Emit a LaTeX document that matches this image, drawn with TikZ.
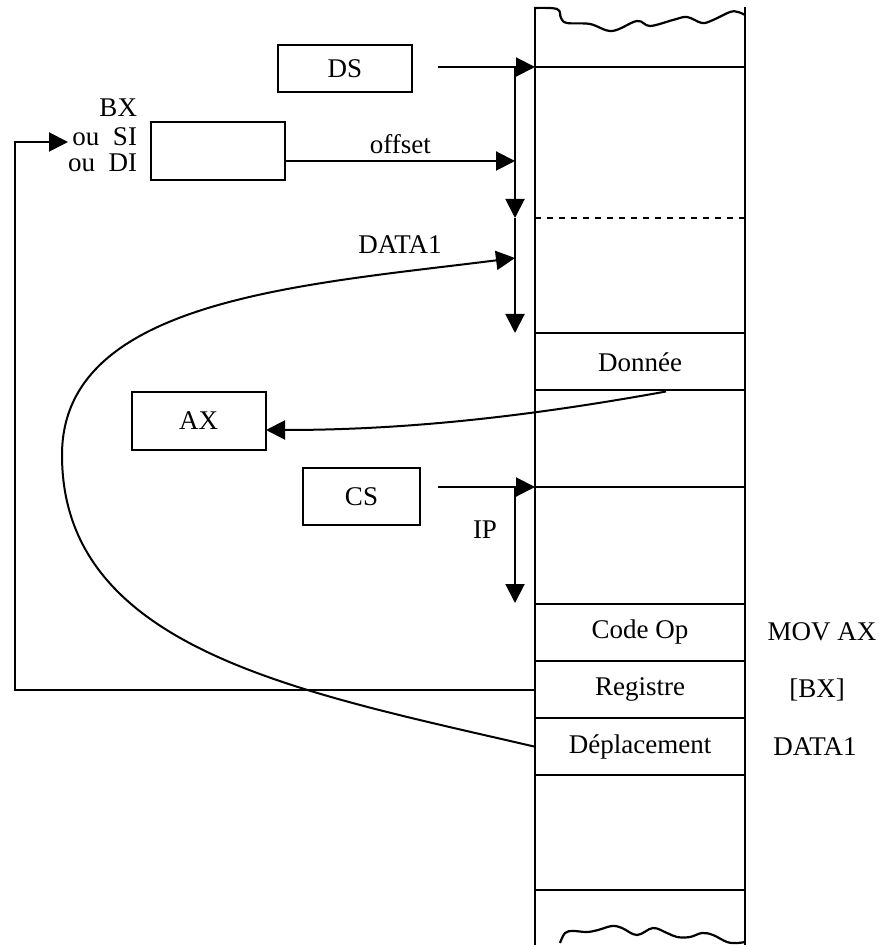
\documentclass[tikz,border=0pt]{standalone}
\usepackage{fontspec}
\setmainfont{Liberation Serif}
\usepackage{tikz}
\usetikzlibrary{arrows.meta}
\tikzstyle{regbox}=[draw, line width=1pt, minimum width=67pt, minimum height=29pt, inner sep=0pt]
\tikzstyle{cell}=[draw, line width=1pt, minimum width=105pt, minimum height=28.5pt, inner sep=0pt]
\tikzstyle{fl}=[-{Triangle[length=9.5pt,width=9.5pt]}, line width=1pt]
\tikzstyle{txt}=[inner sep=0pt]

\begin{document}
\begin{tikzpicture}[x=0.5pt,y=-0.5pt,line width=1pt,
  every node/.style={font=\fontsize{13.5}{16}\selectfont}]
\useasboundingbox (0,0) rectangle (879,945);
% memoire
\draw (535,7) -- (535,945);
\draw (745,7) -- (745,945);
\draw[line width=1.1pt] plot[smooth, tension=0.6] coordinates {(534,8) (557,9) (561,18) (567,23) (590,24) (612,31) (637,21) (650,26) (673,20) (687,17) (702,23) (713,20) (730,12) (738,12) (745,15)};
\draw[line width=1.1pt] plot[smooth, tension=0.6] coordinates {(560,943) (565,933) (573,931) (587,932) (598,930) (612,926) (622,928) (637,935) (653,928) (667,933) (677,937) (690,937) (702,933) (713,935) (727,942) (737,943) (745,942)};
\draw (535,67) -- (745,67);
\draw[dashed] (535,218) -- (745,218);
\draw (535,487) -- (745,487);
\draw (535,890) -- (745,890);
\node[cell] (don) at (640,362) {Donn\'ee};
\node[cell] (cop) at (640,632) {Code Op};
\node[cell] (reg) at (640,689.5) {Registre};
\node[cell] (dep) at (640,746.5) {D\'eplacement};
\node[txt] (mov) at (822,632) {MOV AX};
\node[txt] (bxr) at (817,690) {[BX]};
\node[txt] (dat) at (815,747) {DATA1};
% registres
\node[regbox, minimum height=23.5pt] (DS) at (345,68.5) {DS};
\node[regbox] (BX) at (217.5,151) {};
\node[regbox] (AX) at (198.5,421) {AX};
\node[regbox, minimum width=58.5pt, minimum height=28.5pt] (CS) at (361.5,496.5) {CS};
\node[txt, anchor=east] (lbx) at (138,108) {BX};
\node[txt, anchor=east] (lsi) at (138,137) {ou\ \ SI};
\node[txt, anchor=east] (ldi) at (138,163) {ou\ \ DI};
\coordinate (ds0) at (438,67);
\coordinate (ds1) at (535,67);
\coordinate (sg0) at (515,67);
\coordinate (sg1) at (515,218);
\coordinate (sg2) at (515,333);
\coordinate (of1) at (515,161);
\coordinate (da1) at (515,258);
\coordinate (cs0) at (438,487);
\coordinate (cs1) at (535,487);
\coordinate (ip0) at (515,487);
\coordinate (ip1) at (515,603);
\coordinate (ax1) at (266,430);
\coordinate (lp0) at (15,690);
\coordinate (lp1) at (15,142);
\coordinate (lp2) at (68,142);
% fleches
\draw[fl] (ds0) -- (ds1);
\draw[fl] (sg0) -- (sg1);
\draw[fl] (sg1) -- (sg2);
\draw[fl] (BX.east |- of1) -- (of1) node[txt, pos=0.5, above=3pt] (off) {offset};
\draw[fl] (cs0) -- (cs1);
\draw[fl] (ip0) -- (ip1);
\node[txt] (ip) at (485,530) {IP};
\draw[fl] (don.south east) ++(-80,0) .. controls (520,418) and (400,430) .. (ax1);
\draw[fl] (reg.west |- lp0) -- (lp0) -- (lp1) -- (lp2);
\draw[fl] (dep.west) .. controls (300,692) and (62,650) .. (62,455)
  .. controls (62,300) and (300,285) .. (da1);
\node[txt] (d1l) at (400,245) {DATA1};
\end{tikzpicture}
\end{document}
